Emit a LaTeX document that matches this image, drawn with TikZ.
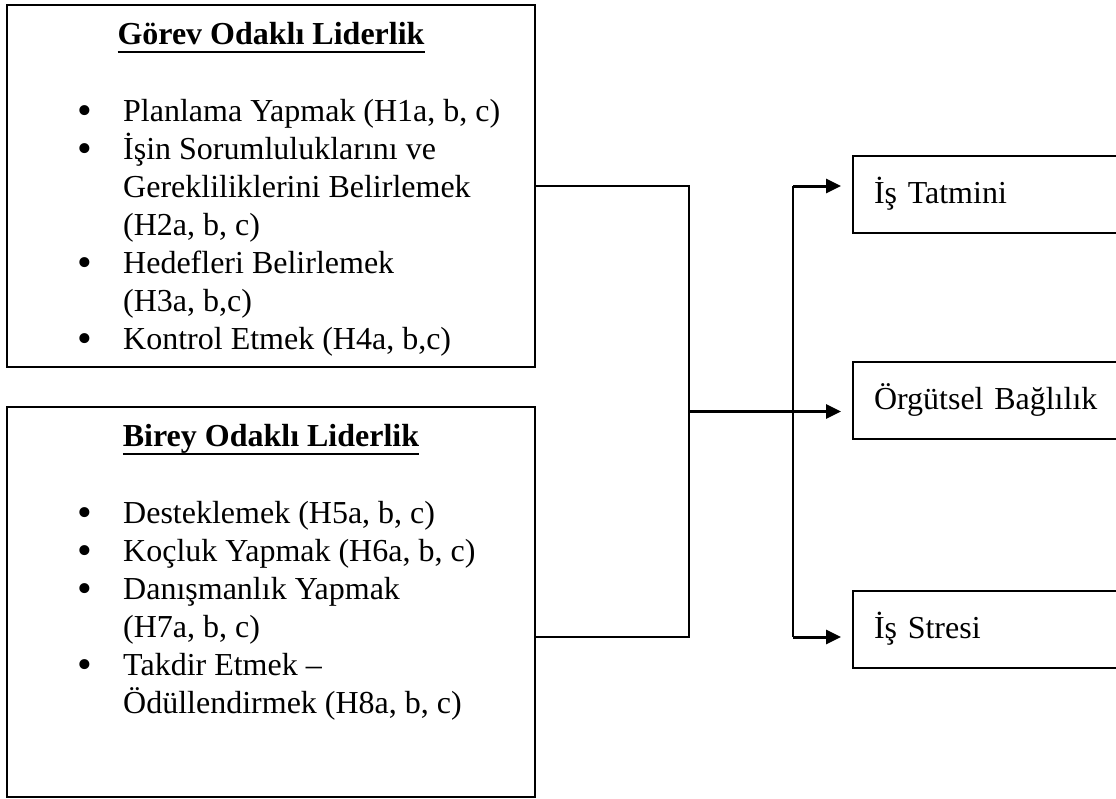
\documentclass[tikz,border=0pt]{standalone}
\usepackage{fontspec}
\setmainfont{Liberation Serif}
\usetikzlibrary{arrows.meta, positioning, calc}

\newcommand{\yazi}{\fontsize{32}{38}\selectfont}
\newcommand{\madde}[1]{\par\hangindent=46pt\hangafter=1\noindent\hbox to 46pt{\raisebox{-3pt}{\fontsize{42}{38}\selectfont\textbullet}\hfil}#1\par}
\newcommand{\altciz}[1]{\setbox0\hbox{#1}\rlap{\rule[-9pt]{\wd0}{2.5pt}}\box0}

\tikzstyle{kutu} = [rectangle, draw, line width=2pt, inner sep=0pt]
\tikzstyle{sonuc} = [rectangle, draw, line width=2pt, minimum width=290pt, minimum height=77pt, text width=248pt, inner xsep=21pt, align=left, font=\yazi]
\tikzstyle{baslik} = [font=\yazi\bfseries, inner sep=0pt, anchor=base]
\tikzstyle{liste} = [inner sep=0pt, anchor=base west, font=\yazi]
\tikzstyle{cizgi} = [draw, line width=2pt]
\tikzstyle{ok} = [draw, line width=3pt, -{Triangle[length=15pt,width=14pt]}, shorten >=11pt]

\begin{document}
\begin{tikzpicture}[x=1pt, y=-1pt]

\useasboundingbox (0,0) rectangle (1116,798);
\clip (0,0) rectangle (1116,798);

% left boxes
\node [kutu, minimum width=528pt, minimum height=362pt] (gorev) at (271,186) {};
\node [kutu, minimum width=528pt, minimum height=390pt] (birey) at (271,602) {};

\node [baslik] (gorevbaslik) at ($(gorev.north)+(0,40)$) {\altciz{Görev Odaklı Liderlik}};
\node [liste] (gorevliste) at (77,121) {\parbox[t]{440pt}{\raggedright
\madde{Planlama Yapmak (H1a, b, c)}
\madde{İşin Sorumluluklarını ve\newline Gerekliliklerini Belirlemek\newline (H2a, b, c)}
\madde{Hedefleri Belirlemek\newline (H3a, b,c)}
\madde{Kontrol Etmek (H4a, b,c)}}};

\node [baslik] (bireybaslik) at ($(birey.north)+(0,40)$) {\altciz{Birey Odaklı Liderlik}};
\node [liste] (bireyliste) at (77,523) {\parbox[t]{440pt}{\raggedright
\madde{Desteklemek (H5a, b, c)}
\madde{Koçluk Yapmak (H6a, b, c)}
\madde{Danışmanlık Yapmak\newline (H7a, b, c)}
\madde{Takdir Etmek --\newline Ödüllendirmek (H8a, b, c)}}};

% right boxes
\node [sonuc] (tatmin) at (998,194) {İş Tatmini};
\node [sonuc] (baglilik) at (998,400) {Örgütsel Bağlılık};
\node [sonuc] (stres) at (998,629) {İş Stresi};

% connectors
\coordinate [right=153pt of gorev.east] (d1);
\coordinate (b1) at ([yshift=-35pt]birey.east);
\coordinate (d2) at (d1 |- b1);
\coordinate (orta) at ($(d1)!0.5!(d2)$);
\coordinate [right=104pt of d1] (e1);
\coordinate (e2) at (e1 |- d2);

\path [cizgi] (gorev.east) -- (d1) -- (d2) -- (b1);
\path [cizgi] (e1) -- (e2);
\path [ok] (orta) -- (orta -| baglilik.west);
\path [ok] (e1) -- (e1 -| tatmin.west);
\path [ok] (e2) -- (e2 -| stres.west);

\end{tikzpicture}
\end{document}
